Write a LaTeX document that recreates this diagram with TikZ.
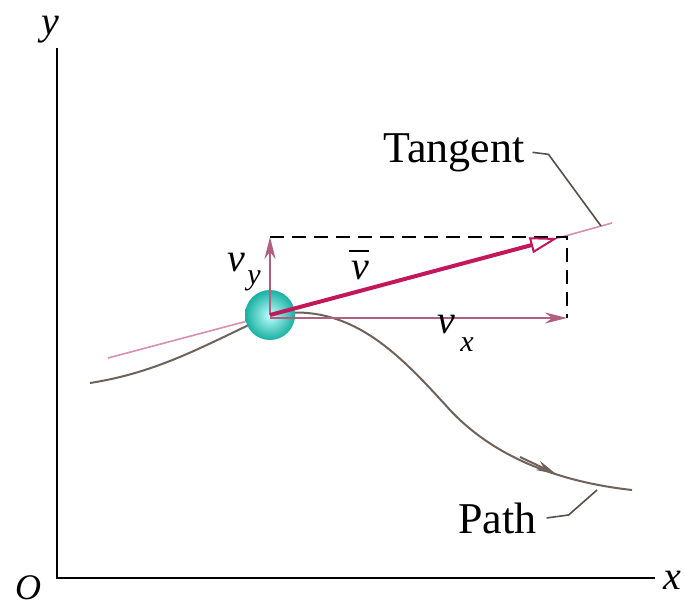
\documentclass[tikz,border=0pt]{standalone}
\usepackage{fontspec}
\setmainfont{Liberation Serif}
\usetikzlibrary{arrows.meta,decorations.markings}
\definecolor{vcol}{HTML}{C2185B}
\definecolor{compcol}{HTML}{B0607E}
\definecolor{tancol}{HTML}{D68FAE}
\definecolor{pathcol}{HTML}{6E625A}
\definecolor{ballcol}{HTML}{18B0A0}
\tikzset{
  axis/.style={line width=2.6pt,black},
  lbl/.style={font=\fontsize{44}{46}\selectfont,inner sep=0pt},
  ilbl/.style={font=\fontsize{40}{42}\selectfont\itshape,inner sep=0pt},
  sub/.style={font=\fontsize{30}{32}\selectfont\itshape,inner sep=0pt},
  comp/.style={line width=2pt,compcol,-{Stealth[length=22pt,width=11pt]}},
  vvec/.style={line width=4pt,vcol},
  tang/.style={line width=1.6pt,tancol},
  pth/.style={line width=2pt,pathcol},
  leader/.style={line width=1.6pt,pathcol!80!black},
  dashline/.style={line width=2.4pt,black,dash pattern=on 14pt off 8pt}
}
\begin{document}
\begin{tikzpicture}[x=1pt,y=-1pt]
\useasboundingbox (0,0) rectangle (685,611);
% axes
\coordinate (O) at (57,578);
\coordinate (ytop) at (57,48);
\coordinate (xend) at (655,578);
\draw[axis] (ytop) -- (O) -- (xend);
\node[ilbl] (ylab) at (50,30) {y};
\node[ilbl] (xlab) at (672,580) {x};
\node[ilbl,font=\fontsize{36}{38}\selectfont\itshape] (olab) at (28,588) {O};
% key points
\coordinate (c) at (270,315);
\coordinate (vytip) at (270,237);
\coordinate (corner) at (567,237);
\coordinate (vxtip) at (567,318);
\coordinate (vtip) at (558,238);
\coordinate (tanL) at (108,358);
\coordinate (tanR) at (612,223);
\coordinate (pstart) at (90,383);
\coordinate (pend) at (632,490);
% path
\draw[pth] (pstart) .. controls (160,372) and (205,345) .. (c)
   .. controls (350,300) and (400,355) .. (450,410)
   .. controls (495,458) and (560,482) .. (pend);
\draw[pth,-{Stealth[length=20pt,width=10pt]}] (520,457) -- (556,474);
% tangent
\draw[tang] (tanL) -- (c);
\draw[tang] (vtip) -- (tanR);
% dashed
\draw[dashline] (vytip) -- (corner) -- (vxtip);
% ball
\node[circle,minimum size=50pt,inner sep=0pt,inner color=cyan!25!white,outer color=ballcol] (ball) at (c) {};
% components
\draw[comp] (c) -- (vytip);
\draw[comp] (c) ++(0,3) coordinate (cx) (cx) -- (vxtip);
% v vector
\draw[vvec,-{Triangle[open,length=28pt,width=16pt,line width=2pt]}] (c) -- (vtip);
% labels
\node[ilbl] (vy) at (236,263) {v};
\node[sub] (vysub) at (254,281) {y};
\node[ilbl] (vlab) at (360,271) {v};
\draw[line width=2.6pt] (349,251) -- (369,251);
\node[ilbl] (vx) at (446,325) {v};
\node[sub] (vxsub) at (467,345) {x};
\node[lbl,anchor=base west] (tangent) at (383,162) {Tangent};
\node[lbl,anchor=base west] (pathlab) at (458,533) {Path};
% leaders
\draw[leader] (tangent.east) ++(8,0) coordinate (t1) (t1) -- ++(16,2) -- (601,226);
\draw[leader] (pathlab.east) ++(10,0) coordinate (p1) (p1) -- ++(22,-3) -- (597,490);
\end{tikzpicture}
\end{document}
